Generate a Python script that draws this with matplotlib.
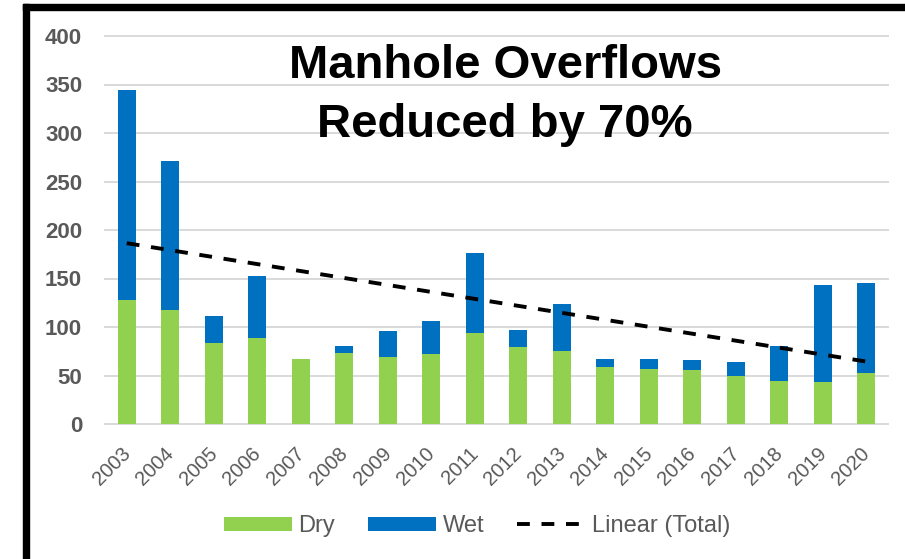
import numpy as np
import matplotlib
matplotlib.use("Agg")
import matplotlib.pyplot as plt
from matplotlib.patches import Rectangle
from matplotlib.transforms import ScaledTranslation

plt.rcParams['font.family'] = ['Liberation Sans', 'DejaVu Sans']

years = [str(y) for y in range(2003, 2021)]
dry = [128, 118, 83, 89, 67, 73, 69, 72, 94, 79, 75, 59, 57, 56, 50, 44, 43, 53]
wet = [216, 153, 28, 64, 0, 7, 27, 34, 82, 18, 49, 8, 10, 10, 14, 36, 100, 92]
yticks = [0, 50, 100, 150, 200, 250, 300, 350, 400]
title_lines = ["Manhole Overflows", "Reduced by 70%"]

GREEN = '#92D050'
BLUE = '#0070C0'
GRAY = '#595959'
GRID = '#D9D9D9'

W, H = 905, 559
fig = plt.figure(figsize=(W / 100, H / 100), dpi=100)
ax = fig.add_axes([105 / W, (H - 424) / H, (888 - 105) / W, (424 - 36) / H])

x = np.arange(len(years))
dry_a = np.array(dry)
wet_a = np.array(wet)
total = dry_a + wet_a

b1 = ax.bar(x, dry_a, width=0.41, color=GREEN, zorder=2, label='Dry')
b2 = ax.bar(x, wet_a, bottom=dry_a, width=0.41, color=BLUE, zorder=2, label='Wet')

coef = np.polyfit(x, total, 1)
xs = x[[0, -1]]
trend, = ax.plot(xs, np.polyval(coef, xs), color='black', lw=2.8,
                 linestyle=(0, (3.3, 3.0)), zorder=3, label='Linear (Total)')

ax.set_xlim(-0.5, len(years) - 0.5)
ax.set_ylim(0, 400)
ax.set_yticks(yticks)
ax.set_xticks(x)
ax.set_xticklabels(years)

for s in ax.spines.values():
    s.set_visible(False)
ax.grid(axis='y', color=GRID, lw=1.4, zorder=0)
for gl in ax.get_ygridlines():
    gl.set_clip_on(False)
ax.set_axisbelow(True)

ax.tick_params(axis='y', length=0, pad=16.5, labelsize=16, labelcolor=GRAY)
for lab in ax.get_yticklabels():
    lab.set_fontweight('bold')
ax.tick_params(axis='x', length=0, pad=14.5, labelsize=14.5, labelcolor=GRAY)
off = ScaledTranslation(-0.06, 0, fig.dpi_scale_trans)
for lab in ax.get_xticklabels():
    lab.set_rotation(45)
    lab.set_ha('right')
    lab.set_va('top')
    lab.set_rotation_mode('anchor')
    lab.set_transform(lab.get_transform() + off)

# title
fig.text(506 / W, (H - 78) / H, title_lines[0], ha='center', va='baseline',
         fontsize=34, fontweight='bold', color='black')
fig.text(505 / W, (H - 137) / H, title_lines[1], ha='center', va='baseline',
         fontsize=34, fontweight='bold', color='black')

# legend
fig.legend([b1, b2, trend], ['Dry', 'Wet', 'Linear (Total)'], loc='center',
           bbox_to_anchor=(477 / W, (H - 526) / H),
           ncol=3, frameon=False, fontsize=17, handlelength=2.88,
           handleheight=0.55, handletextpad=0.28, columnspacing=1.4,
           labelcolor=GRAY)

# outer frame (left and top borders)
fig.patches.append(Rectangle((23 / W, 0), 6 / W, (H - 4) / H,
                             transform=fig.transFigure, color='black', zorder=5))
fig.patches.append(Rectangle((23 / W, (H - 10) / H), (W - 23) / W, 6 / H,
                             transform=fig.transFigure, color='black', zorder=5))

fig.savefig('out.png', dpi=100)
